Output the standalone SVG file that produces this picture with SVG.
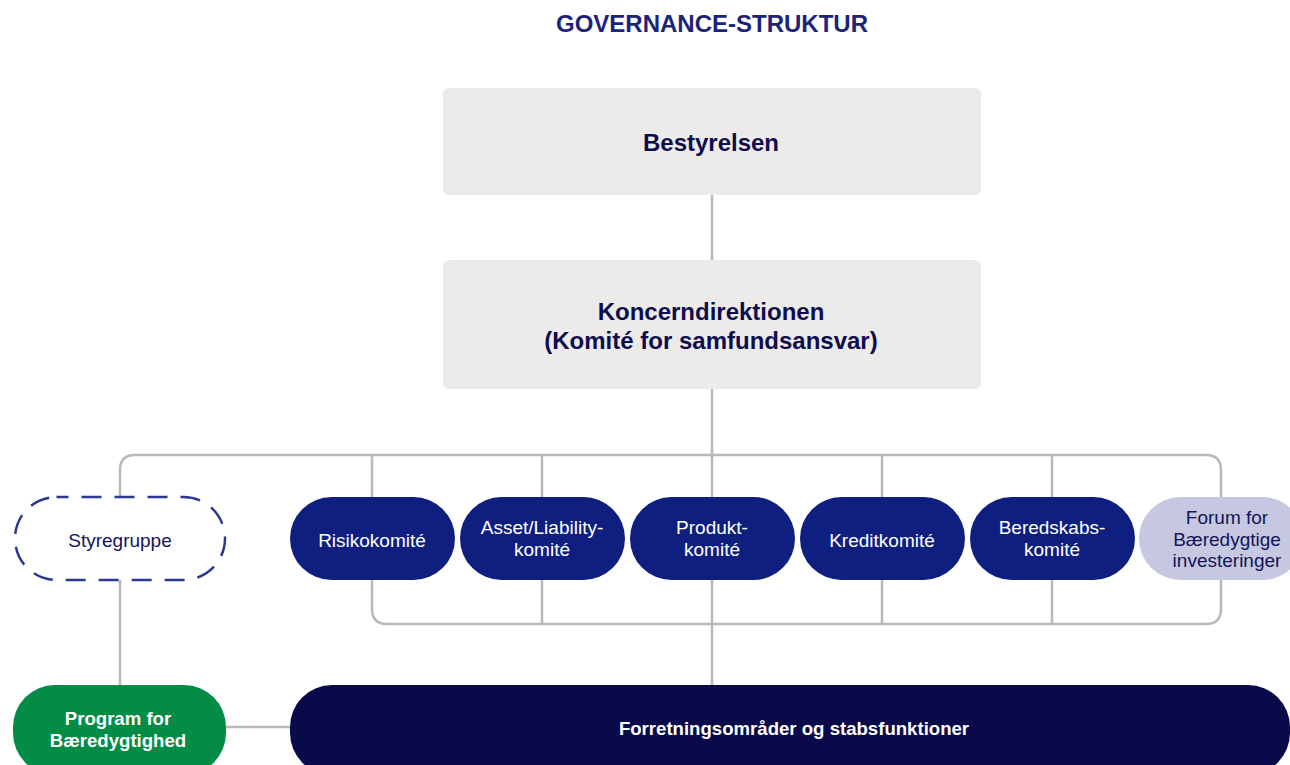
<svg xmlns="http://www.w3.org/2000/svg" width="1290" height="765" viewBox="0 0 1290 765">
<style>
.t{font-family:"Liberation Sans",Arial,sans-serif;text-anchor:middle}
.title{font-size:24px;font-weight:bold;fill:#1b2479}
.box{fill:#edebe9}
.bt{font-size:24px;font-weight:bold;fill:#0d0d4d}
.pill{fill:#0f1f80}
.wt{font-size:19px;fill:#ffffff}
.nt{font-size:19px;fill:#14145a}
.con{fill:none;stroke:#bdb8b3;stroke-width:2.5}
</style>
<rect width="1290" height="765" fill="#ffffff"/>
<text class="t title" x="712" y="32">GOVERNANCE-STRUKTUR</text>
<g id="connectors">
<line class="con" x1="712" y1="195" x2="712" y2="260"/>
<line class="con" x1="712" y1="389" x2="712" y2="686"/>
<path class="con" d="M120 497 V470 Q120 455 135 455 H1206 Q1221 455 1221 470 V609 Q1221 624 1206 624 H387 Q372 624 372 609 V455"/>
<line class="con" x1="542" y1="455" x2="542" y2="624"/>
<line class="con" x1="882" y1="455" x2="882" y2="624"/>
<line class="con" x1="1052" y1="455" x2="1052" y2="624"/>
<line class="con" x1="120" y1="580" x2="120" y2="686"/>
<line class="con" x1="225" y1="727" x2="292" y2="727"/>
</g>
<g id="bestyrelsen">
<rect class="box" x="443" y="88" width="538" height="107" rx="6"/>
<text class="t bt" x="711" y="151">Bestyrelsen</text>
</g>
<g id="koncerndirektionen">
<rect class="box" x="443" y="260" width="538" height="129" rx="6"/>
<text class="t bt" x="711" y="320">Koncerndirektionen</text>
<text class="t bt" x="711" y="349">(Komité for samfundsansvar)</text>
</g>
<g id="styregruppe">
<rect x="15" y="497" width="210" height="83" rx="41.5" fill="#ffffff" stroke="#2a3894" stroke-width="2.5" stroke-dasharray="20 13" stroke-dashoffset="8"/>
<text class="t nt" x="120" y="547">Styregruppe</text>
</g>
<g id="risikokomite">
<rect class="pill" x="290" y="497" width="165" height="83" rx="41.5"/>
<text class="t wt" x="372" y="547">Risikokomité</text>
</g>
<g id="asset-liability">
<rect class="pill" x="460" y="497" width="165" height="83" rx="41.5"/>
<text class="t wt" x="542" y="534">Asset/Liability-</text>
<text class="t wt" x="542" y="556">komité</text>
</g>
<g id="produkt">
<rect class="pill" x="630" y="497" width="165" height="83" rx="41.5"/>
<text class="t wt" x="712" y="534">Produkt-</text>
<text class="t wt" x="712" y="556">komité</text>
</g>
<g id="kreditkomite">
<rect class="pill" x="800" y="497" width="165" height="83" rx="41.5"/>
<text class="t wt" x="882" y="547">Kreditkomité</text>
</g>
<g id="beredskab">
<rect class="pill" x="970" y="497" width="165" height="83" rx="41.5"/>
<text class="t wt" x="1052" y="534">Beredskabs-</text>
<text class="t wt" x="1052" y="556">komité</text>
</g>
<g id="forum">
<rect x="1139" y="497" width="165" height="83" rx="41.5" fill="#c5c8e0"/>
<text class="t nt" x="1227" y="524">Forum for</text>
<text class="t nt" x="1227" y="546">Bæredygtige</text>
<text class="t nt" x="1227" y="567">investeringer</text>
</g>
<g id="program">
<rect x="13" y="685" width="213" height="90" rx="42" fill="#038c45"/>
<text class="t" x="118" y="725" font-size="18.6" font-weight="bold" fill="#ffffff">Program for</text>
<text class="t" x="118" y="747" font-size="18.6" font-weight="bold" fill="#ffffff">Bæredygtighed</text>
</g>
<g id="forretning">
<rect x="290" y="685" width="1000" height="90" rx="42" fill="#0a0a4a"/>
<text class="t" x="794" y="735" font-size="18.6" font-weight="bold" fill="#ffffff">Forretningsområder og stabsfunktioner</text>
</g>
</svg>
